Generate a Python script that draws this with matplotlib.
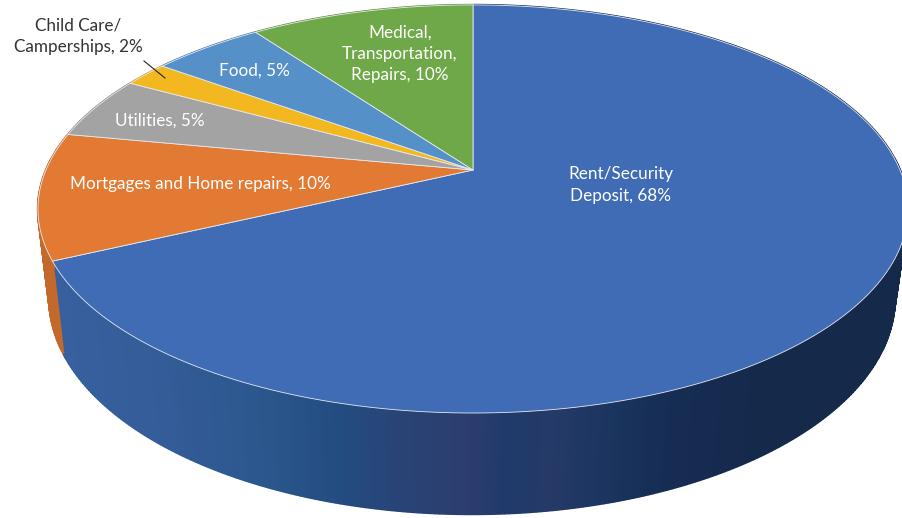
import numpy as np
import matplotlib
matplotlib.use('Agg')
import matplotlib.pyplot as plt
from matplotlib.colors import LinearSegmentedColormap

labels = ['Rent/Security\nDeposit, 68%', 'Mortgages and Home repairs, 10%', 'Utilities, 5%',
          'Child Care/\nCamperships, 2%', 'Food, 5%', 'Medical,\nTransportation,\nRepairs, 10%']
values = [68, 10, 5, 2, 5, 10]
colors = ['#3f6cb4', '#e27a33', '#a3a3a3', '#f3b81f', '#5690c9', '#6fa848']
side_colors = [None, '#c4692c', '#8c8c8c', '#d09c18', '#4a7bad', '#5f903e']
label_xy = [(620.5, 185), (200, 184), (160, 121), (78, 36), (254, 71), (400, 54)]
label_colors = ['white', 'white', 'white', '#333333', 'white', 'white']

# projection of the disc, top rim and bottom rim
cx, cy, rx, ry, k = 473, 170, 427, 196.6, 0.191
cx2, cy2, rx2, ry2 = 472, 257, 415, 208

wall = LinearSegmentedColormap.from_list('wall', [
    (0.0, '#38609f'), (0.15, '#345c98'), (0.3, '#2a568c'), (0.4, '#234c80'), (0.5, '#2a4275'),
    (0.58, '#2c3d6e'), (0.64, '#1f3a6b'), (0.7, '#263a68'), (0.78, '#1a3560'),
    (0.88, '#162c52'), (1.0, '#15294b')])


def rim(t, x0, y0, a, b):
    den = 1 + k * np.cos(t)
    return x0 + a * np.sin(t) / den, y0 - b * np.cos(t) / den


plt.rcParams['font.family'] = ['Lato', 'DejaVu Sans']
fig = plt.figure(figsize=(9.03, 5.18), dpi=100)
ax = fig.add_axes([0, 0, 1, 1])
ax.set_xlim(0, 903)
ax.set_ylim(518, 0)
ax.axis('off')

edges = np.cumsum([0] + values) / sum(values) * 2 * np.pi

# walls first, the top face covers whatever is hidden
for i in range(len(values)):
    n = max(int(values[i] * 6), 4)
    t = np.linspace(edges[i], edges[i + 1], n + 1)
    xt, yt = rim(t, cx, cy, rx, ry)
    xb, yb = rim(t, cx2, cy2, rx2, ry2)
    for j in range(n):
        xs = [xt[j], xt[j + 1], xb[j + 1], xb[j]]
        ys = [yt[j], yt[j + 1], yb[j + 1], yb[j]]
        if side_colors[i] is None:
            c = wall(np.clip((np.mean(xs) - 60) / 700, 0, 1))
        else:
            c = side_colors[i]
        ax.fill(xs, ys, facecolor=c, edgecolor=c, lw=1.6, joinstyle='bevel', zorder=2)

for i in range(len(values)):
    t = np.linspace(edges[i], edges[i + 1], 200)
    x, y = rim(t, cx, cy, rx, ry)
    ax.fill(np.r_[cx, x], np.r_[cy, y], facecolor=colors[i], edgecolor='#e4e9f1', lw=0.6,
            joinstyle='round', zorder=3)

for lab, (x, y), c in zip(labels, label_xy, label_colors):
    ax.text(x, y, lab, color=c, ha='center', va='center', fontsize=12.3, linespacing=1.42, zorder=5)

ax.plot([144, 165], [61, 78], color='#222222', lw=0.8, zorder=5)

fig.savefig('out.png', dpi=100)
